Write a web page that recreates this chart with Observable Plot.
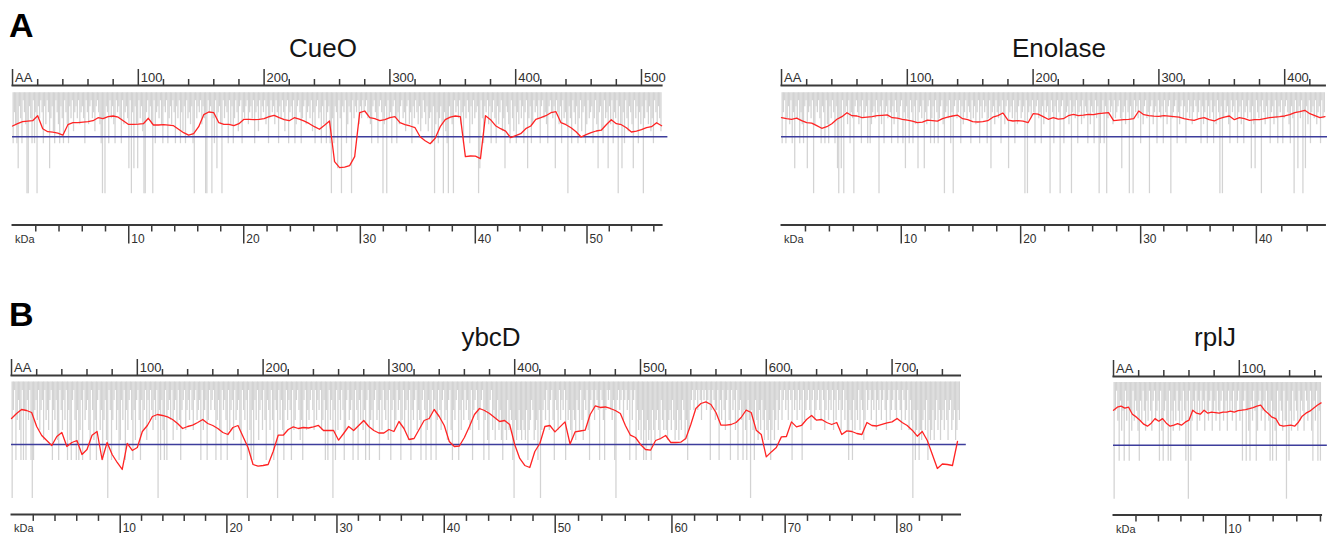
<!DOCTYPE html>
<html>
<head>
<meta charset="utf-8">
<script src="https://cdn.jsdelivr.net/npm/d3@7"></script>
<script src="https://cdn.jsdelivr.net/npm/@observablehq/plot@0.6"></script>
<style>
html, body { margin: 0; padding: 0; background: #fff; }
#chart { position: relative; width: 1327px; height: 534px; overflow: hidden; background: #fff; font-family: "Liberation Sans", Arial, sans-serif; }
</style>
</head>
<body>
<div id="chart"></div>
<script>
// ---------------- DATA ----------------
// Per-residue profile bars: each entry is an index into the panel's bar levels.
const levelsA = [36, 30, 24, 18, 12, 5, -7, -32, -57];
const levelsB = [54, 44, 34, 24, 14, 4, -16, -35, -54];

const cueoCodes = [
6,2,4,6,7,1,3,6,0,2,4,8,8,1,3,6,0,6,2,8,
1,3,0,2,6,1,4,0,2,7,3,1,5,6,0,2,4,6,1,3,
6,0,2,4,6,1,3,0,5,2,1,3,0,4,2,1,3,6,0,2,
4,1,0,3,2,5,1,0,2,4,6,8,3,8,1,2,6,0,3,1,
4,6,0,2,1,3,6,0,4,2,1,3,7,0,8,2,7,1,4,7,
0,3,1,5,8,8,2,0,3,1,4,8,0,6,2,1,3,0,4,6,
1,2,0,6,3,1,4,0,2,6,1,3,0,6,2,5,1,6,0,3,
2,4,1,6,8,0,3,1,2,0,4,1,3,8,8,0,2,1,8,3,
6,0,7,2,1,4,8,0,3,1,2,6,0,4,1,6,3,0,2,5,
1,0,6,2,3,1,0,4,2,1,3,0,6,2,1,5,0,3,1,2,
0,4,1,6,3,0,2,1,4,0,2,6,1,3,0,2,5,1,0,6,
2,1,3,0,6,4,1,0,2,6,3,1,0,4,2,1,3,0,5,2,
6,1,0,3,2,6,1,4,0,6,2,1,6,8,3,6,1,2,7,0,
3,8,1,2,0,6,4,1,2,8,0,3,1,2,0,4,1,3,0,2,
1,0,3,2,4,6,1,0,2,3,6,1,0,2,8,4,1,8,0,3,
2,6,1,0,3,6,2,4,1,0,3,2,5,1,0,4,2,6,1,3,
0,2,4,1,5,3,0,2,4,1,5,3,2,6,1,8,4,2,6,3,
1,4,8,2,5,6,8,1,3,4,8,0,2,1,3,0,4,2,6,1,
3,0,2,6,1,4,0,3,2,1,8,7,0,3,6,1,2,0,4,1,
6,2,0,3,6,1,4,2,0,5,3,7,1,2,4,6,0,3,5,1,
6,2,4,0,3,1,6,2,0,7,3,1,6,4,0,2,1,3,0,6,
1,0,3,2,4,6,1,0,2,3,1,7,0,2,4,1,6,0,3,2,
4,8,1,3,6,0,2,4,1,6,3,0,5,2,1,6,4,0,3,2,
1,6,3,0,4,7,2,1,5,6,0,3,2,7,1,4,0,6,2,3,
0,8,1,4,7,2,6,0,3,5,1,2,4,7,0,3,1,6,2,4,
1,8,3,0,2,4,1,5,3,6,0,2,4,1,3,5];

const enolaseCodes = [
6,2,0,6,3,1,4,0,6,2,7,1,3,0,6,2,4,6,1,0,
7,2,1,3,0,8,4,1,2,0,3,6,1,2,6,0,4,6,1,3,
0,2,6,1,7,8,3,7,0,8,2,1,4,0,6,2,3,8,1,0,
2,4,1,6,0,3,2,1,6,0,6,4,2,1,3,0,2,8,1,4,
0,6,2,1,3,0,2,6,1,4,0,2,6,3,1,0,6,2,7,1,
3,6,0,2,6,1,4,0,7,2,1,3,0,7,2,4,1,0,6,3,
1,6,0,2,6,3,1,0,4,8,2,1,3,0,6,2,8,1,0,3,
2,0,6,1,4,2,0,3,1,2,6,0,3,1,4,2,0,6,1,3,
0,2,1,6,3,0,7,2,1,4,0,2,3,1,6,0,2,4,1,0,
7,2,1,3,0,6,2,4,1,0,3,2,1,8,0,8,2,1,3,0,
2,6,1,0,3,2,6,1,4,0,2,1,3,8,0,2,6,1,3,0,
2,8,1,0,6,3,2,1,4,0,8,2,1,3,0,6,2,1,4,0,
3,1,2,6,0,4,1,2,6,0,3,1,8,6,2,0,6,1,8,3,
0,2,1,4,0,3,2,1,0,3,7,2,1,4,0,2,8,1,3,8,
0,2,1,3,0,6,2,4,1,0,3,2,8,1,0,4,2,1,6,0,
2,3,1,6,0,2,4,1,0,8,3,2,1,0,6,2,4,1,0,3,
1,6,2,0,3,1,4,2,0,1,3,2,0,6,1,4,2,0,6,1,
3,0,2,6,1,4,0,2,8,1,8,3,0,2,1,4,6,0,2,1,
3,0,6,2,1,4,0,6,2,1,3,0,2,7,1,4,7,0,2,3,
1,8,0,2,4,1,3,0,6,2,1,4,0,3,6,1,2,0,6,3,
1,0,2,4,6,1,3,8,0,2,7,1,3,0,8,2,7,1,4,0,
6,2,1,3,0,4,2,1,6,0,3,2];

const ybcdCodes = [
8,2,0,6,3,1,4,6,0,6,2,6,1,3,0,6,8,6,2,1,
3,0,4,2,1,5,0,3,2,4,1,0,6,2,3,1,5,6,0,2,
4,1,3,0,6,2,5,6,1,0,3,6,2,6,4,1,6,0,3,2,
1,4,6,0,2,5,3,6,1,0,4,2,6,3,1,5,8,0,2,6,
3,1,0,4,2,6,5,1,3,0,6,2,4,1,0,3,6,2,5,1,
0,3,6,1,4,2,0,5,1,3,0,2,4,1,3,0,8,2,6,1,
4,6,0,6,2,1,3,0,5,2,1,4,0,3,6,2,1,0,4,2,
1,3,0,2,4,1,0,3,2,1,6,0,4,2,1,6,3,0,2,1,
0,2,6,3,1,4,6,0,2,1,3,6,0,4,2,1,5,0,3,2,
1,4,6,0,2,3,1,8,0,4,6,2,6,1,3,0,5,2,1,4,
0,3,6,1,2,4,0,3,6,1,2,8,0,3,1,4,6,2,0,3,
1,2,6,0,4,3,1,0,2,5,3,6,1,0,4,2,3,1,0,2,
4,0,3,1,2,0,4,3,1,6,2,6,0,3,1,8,2,6,0,4,
1,3,0,2,6,4,1,0,3,2,1,6,4,0,2,6,1,3,0,4,
2,6,1,0,6,3,2,4,1,0,3,2,6,1,4,0,2,3,1,5,
0,6,2,1,4,3,0,2,1,6,3,0,4,2,1,5,0,6,2,3,
1,0,4,2,3,6,1,0,2,6,4,1,3,6,0,2,1,6,3,0,
2,4,1,0,3,2,5,1,0,4,6,2,3,1,0,6,2,4,1,3,
0,2,1,3,4,0,6,2,1,0,3,4,2,1,0,6,3,2,5,6,
1,0,4,2,5,3,1,4,2,5,6,3,4,5,1,4,2,3,6,8,
3,5,4,2,4,5,3,4,5,2,6,4,3,1,2,5,4,3,6,2,
8,4,2,1,3,0,2,4,1,0,3,6,1,2,4,0,3,1,2,0,
6,1,3,2,4,5,2,3,5,1,2,4,0,3,5,1,2,0,4,6,
1,0,2,3,0,1,2,6,0,1,3,6,2,0,1,0,2,3,1,6,
8,1,0,2,1,0,3,1,0,2,1,6,0,3,1,0,6,2,4,3,
5,2,6,4,6,3,5,4,6,2,4,5,3,2,4,5,1,3,4,2,
4,5,3,2,4,1,3,5,4,2,5,3,4,1,2,5,3,6,4,2,
1,0,2,1,0,2,0,1,3,0,1,0,2,1,0,6,2,0,1,3,
2,0,6,1,3,0,2,4,1,0,3,6,0,2,1,4,0,6,2,1,
3,6,2,4,6,1,3,8,2,4,6,1,3,5,2,4,1,3,5,2,
4,5,3,6,4,2,5,3,1,4,2,0,3,1,0,2,1,3,0,1,
6,0,2,1,3,0,2,1,6,0,3,2,1,0,2,4,1,0,3,2,
1,0,2,3,0,1,4,2,0,3,1,2,0,4,1,3,0,2,1,4,
2,0,3,1,4,6,2,3,6,1,4,2,3,0,4,1,2,5,3,0,
2,1,0,3,1,2,0,4,1,2,0,3,1,0,2,4,1,0,3,2,
1,0,2,3,0,1,2,4,0,1,3,2,0,4,1,3,8,2,6,4,
2,6,4,5,3,2,4,1,6,3,5,4,2,5,3,1,4,2,5,3,
2,4,1,3,5,2,1,4,3,2,5,4,2,3];

const rpljCodes = [
8,2,0,3,6,1,4,2,6,0,3,1,6,2,4,0,3,1,2,4,
6,1,3,0,2,4,1,3,0,2,4,1,0,3,2,1,6,0,4,6,
2,1,3,6,0,6,2,4,1,3,0,2,4,1,3,0,2,6,1,8,
0,6,3,1,2,0,4,1,3,0,2,1,4,0,2,3,1,0,4,2,
1,3,0,2,4,1,0,3,2,1,4,0,2,1,3,0,2,4,1,0,
3,2,6,1,0,6,2,4,6,1,3,0,2,6,4,1,0,3,2,1,
4,0,2,3,6,1,6,2,4,6,0,3,1,2,4,0,3,8,1,6,
2,4,0,3,1,2,4,0,3,1,2,4,0,1,3,2,0,4,6,1,
3,0,6,2,6];

// Smoothed profile (red line), sampled every `step` residues starting at residue 0.
const cueoRed = [
10.7, 13, 15, 15.5, 16, 21, 8, 5, 4.5, 3.5,
1.5, 12, 14, 14, 14.5, 15, 16, 19, 18, 20,
20.7, 19.5, 16, 12.4, 12.4, 12.5, 13, 18.4, 11.7, 11.7,
12, 11.5, 11, 7.5, 4, 1.5, 3, 10, 22, 24.7,
24, 14, 12.4, 12.4, 11, 13, 17.4, 17.4, 17, 17.4,
18, 20, 21.4, 19, 17, 16, 19, 17.5, 15.5, 13,
10, 7.4, 11.5, 15.7, -25, -31, -30.5, -29, -20, 24,
25.7, 19, 18, 16, 17, 19, 20, 14, 12, 10.7,
9, 0, -4, -7, -1.5, 10, 17, 19.5, 20.7, 20,
-20, -19.3, -19.5, -22, 21, 17, 11, 8, 5.5, -1,
1, 3, 8, 10.7, 17.4, 19, 21, 24, 25, 14,
12, 9, 5, -0.3, 2, 4, 5.7, 6.5, 12, 17,
13, 12, 9, 4.7, 5.5, 7, 9, 10, 14, 11];

const enolaseRed = [
19, 18, 17.4, 18.5, 16, 14, 13.5, 11, 8.4, 10,
13, 17.4, 20, 24, 21, 20.7, 19, 19.5, 20, 21,
21.4, 21.8, 19, 18.5, 17.4, 16.5, 15.5, 14, 14.5, 16.5,
16, 15.5, 18, 19.5, 20.7, 21.5, 18, 17, 15, 14.7,
15, 16, 19.5, 21, 23.7, 16.5, 15.7, 16, 15.5, 14,
23, 22.5, 20, 17.4, 19, 17.5, 18, 21, 22.4, 21,
21.5, 22.4, 22, 23, 23.5, 24, 16, 16.5, 17, 17.4,
18, 25.7, 22, 21, 20.5, 20.4, 21, 20.5, 20, 19.5,
18, 17, 16.4, 18, 19, 17, 15.7, 18, 19.5, 20.7,
17, 19, 18, 16.4, 17, 17, 18, 19, 19.5, 20,
20.7, 22, 24, 25, 26.4, 23, 21, 19, 20];

const ybcdRed = [
26, 31, 35, 34, 32, 18, 9, 4, -1, 8,
12, -2, 2, 4, -10, -5, 9.3, 13, -15, 2,
-10, -18, -25, 1, -6, -3, 13, 19, 28, 30,
29, 27.6, 25, 21, 16, 18, 19.3, 22, 25, 21,
19, 16, 12, 10, 17, 19, 8, -3, -20, -21.7,
-21, -20, -7, 9.3, 9.3, 15, 17.6, 16, 17, 16.5,
17.6, 19, 14, 14, 14, 4.3, 11, 18, 14, 19,
24, 18, 14, 11.5, 11.5, 15, 13, 23, 16, 5,
6, 15, 24, 26, 35, 28, 19, 3, -2, -1.5,
7, 18, 30, 36, 34, 31, 27, 23, 24, 20,
0, -14, -21, -23, -7, 1, 18, 19, 12.6, 17.6,
22.6, 0.5, 12.6, 13.5, 14.3, 30, 38.5, 37, 37.5, 36,
34, 31, 19, 9.3, 7, 0, -5, -5.7, 4, 6,
9, 2, 2, 2.3, 6, 20, 36, 41, 42.6, 40,
32, 19.3, 19.3, 20, 22, 27, 34.3, 32, 14.3, 10,
-12.4, -7.4, -3, 7.6, 8, 22.6, 17.6, 19, 25, 29,
24.3, 25, 22, 20, 22, 10, 13.6, 13, 11, 10,
22, 19, 18.5, 20, 21.6, 22.6, 26, 22, 19, 14.3,
8.3, 13, 4, -10, -24, -19.5, -20, -21, 3];

const rpljRed = [
35, 38, 39, 37, 38, 31, 28.3, 25, 21, 19,
22, 26.6, 24, 26.6, 22, 19, 20, 21.6, 20, 23,
25, 35, 32, 31, 35, 32, 33, 32.5, 32, 33,
33, 34, 33, 34.5, 35, 35.6, 36.5, 37.6, 39, 40,
35, 31.6, 28, 26.6, 20, 19, 19.5, 20, 19, 23,
29, 32, 34, 37, 40, 42.3];

// Tick labels (amino-acid axis) and kDa marks (residue position reached at each 10 kDa)
const cueoAATicks = [0, 100, 200, 300, 400, 500];
const enolaseAATicks = [0, 100, 200, 300, 400];
const ybcdAATicks = [0, 100, 200, 300, 400, 500, 600, 700];
const rpljAATicks = [0, 100];

const cueoKdaTicks = [0, 10, 20, 30, 40, 50];
const cueoKdaAt = [0, 92.4, 183.8, 276.5, 367.9, 456.7];
const enolaseKdaTicks = [0, 10, 20, 30, 40];
const enolaseKdaAt = [0, 95.2, 190.1, 285.5, 377.5];
const ybcdKdaTicks = [0, 10, 20, 30, 40, 50, 60, 70, 80];
const ybcdKdaAt = [0, 86.4, 171.2, 258.7, 344, 432.2, 525, 615, 703.8];
const rpljKdaTicks = [0, 10];
const rpljKdaAt = [0, 89.3];

const proteinNames = ["CueO", "Enolase", "ybcD", "rplJ"];
const proteinLengths = [516, 432, 754, 165];
const proteinKda = [56.7, 45.4, 85.6, 18.05];
const panelLetters = ["A", "B"];

// ---------------- LAYOUT ----------------
const FONT = '"Liberation Sans", Arial, Helvetica, sans-serif';
const PX = 1.258;                 // pixels per residue
const M = {l: 4, r: 12, t: 24, b: 26};
const AXIS = "#3a3a3a";

const panels = [
  {name: proteinNames[0], codes: cueoCodes, red: cueoRed, step: 4, L: proteinLengths[0], aa: cueoAATicks,
   kda: cueoKdaTicks, kdaAt: cueoKdaAt, kdaTotal: proteinKda[0], levels: levelsA, barTop: 44,
   x0: 11.5, top: 84.5, bottom: 224, base: 135.7, title: [323, 57]},
  {name: proteinNames[1], codes: enolaseCodes, red: enolaseRed, step: 4, L: proteinLengths[1], aa: enolaseAATicks,
   kda: enolaseKdaTicks, kdaAt: enolaseKdaAt, kdaTotal: proteinKda[1], levels: levelsA, barTop: 44,
   x0: 780.9, top: 84.5, bottom: 224, base: 135.7, title: [1059, 57]},
  {name: proteinNames[2], codes: ybcdCodes, red: ybcdRed, step: 4, L: proteinLengths[2], aa: ybcdAATicks,
   kda: ybcdKdaTicks, kdaAt: ybcdKdaAt, kdaTotal: proteinKda[2], levels: levelsB, barTop: 62.6,
   x0: 11.3, top: 375.3, bottom: 514.2, base: 444.3, title: [491, 346]},
  {name: proteinNames[3], codes: rpljCodes, red: rpljRed, step: 3, L: proteinLengths[3], aa: rpljAATicks,
   kda: rpljKdaTicks, kdaAt: rpljKdaAt, kdaTotal: proteinKda[3], levels: levelsB, barTop: 62.6,
   x0: 1112.7, top: 375.6, bottom: 514.2, base: 444.3, title: [1215, 346]}
];

const chart = document.getElementById("chart");

for (const p of panels) {
  const innerW = p.L * PX;
  const innerH = p.bottom - p.top;
  const kdaScale = d3.scaleLinear().domain([...p.kda, p.kdaTotal]).range([...p.kdaAt, p.L]);
  const kdaMinor = d3.range(2, p.kdaTotal, 2).filter(k => k % 10 !== 0).map(k => kdaScale(k));
  const kdaMajor = p.kda.filter(k => k > 0).map(k => kdaScale(k));
  const aaMinor = d3.range(20, p.L, 20).filter(v => v % 100 !== 0);
  const textOpts = {fontFamily: FONT, fill: "#303030", stroke: "none", textAnchor: "start", dx: 2.5, label: null};

  const svg = Plot.plot({
    width: M.l + innerW + M.r,
    height: M.t + innerH + M.b,
    marginLeft: M.l, marginRight: M.r, marginTop: M.t, marginBottom: M.b,
    x: {domain: [0, p.L]},
    y: {domain: [-(p.bottom - p.base), p.base - p.top], axis: null},
    style: {background: "transparent", overflow: "visible", fontFamily: FONT},
    marks: [
      Plot.ruleX(p.codes, {x: (d, i) => i + 0.5, y1: p.barTop, y2: d => p.levels[d], stroke: "#d3d3d3", strokeWidth: 1.26}),
      Plot.ruleY([0], {x1: 0, x2: p.L + 5, stroke: "#3d3d9c", strokeWidth: 1.6}),
      Plot.line(p.red, {x: (d, i) => i * p.step, y: d => d, stroke: "#ff2424", strokeWidth: 1.3}),
      Plot.frame({anchor: "top", stroke: AXIS, strokeWidth: 2}),
      Plot.frame({anchor: "bottom", stroke: AXIS, strokeWidth: 2}),
      // amino-acid axis (top)
      Plot.axisX({anchor: "top", ticks: aaMinor, tickSize: 7, fill: "none", stroke: AXIS, strokeWidth: 1.5, label: null}),
      Plot.axisX({anchor: "top", ticks: p.aa, tickSize: 17, fill: "none", stroke: AXIS, strokeWidth: 1.5, label: null}),
      Plot.axisX({anchor: "top", ticks: p.aa, tickSize: 0, tickPadding: 3, fontSize: 13,
        tickFormat: d => d === 0 ? "AA" : String(d), ...textOpts}),
      // kDa axis (bottom)
      Plot.axisX({anchor: "bottom", ticks: kdaMinor, tickSize: 7, fill: "none", stroke: AXIS, strokeWidth: 1.5, label: null}),
      Plot.axisX({anchor: "bottom", ticks: kdaMajor, tickSize: 19, fill: "none", stroke: AXIS, strokeWidth: 1.5, label: null}),
      Plot.axisX({anchor: "bottom", ticks: kdaMajor, tickSize: 0, tickPadding: 9.5, fontSize: 12,
        tickFormat: v => String(Math.round(kdaScale.invert(v))), ...textOpts}),
      Plot.axisX({anchor: "bottom", ticks: [0], tickSize: 0, tickPadding: 10, fontSize: 11,
        tickFormat: () => "kDa", ...textOpts})
    ]
  });
  svg.style.position = "absolute";
  svg.style.left = (p.x0 - M.l) + "px";
  svg.style.top = (p.top - M.t) + "px";
  svg.style.maxWidth = "none";
  chart.appendChild(svg);
}

// Titles and panel letters
const overlay = d3.select(chart).append("svg")
  .attr("width", 1327).attr("height", 534)
  .style("position", "absolute").style("left", 0).style("top", 0)
  .style("pointer-events", "none");
overlay.selectAll("text.title").data(panels).join("text")
  .attr("class", "title")
  .attr("x", d => d.title[0]).attr("y", d => d.title[1])
  .attr("text-anchor", "middle")
  .attr("font-family", FONT).attr("font-size", 26).attr("fill", "#151515")
  .text(d => d.name);
overlay.selectAll("text.letter").data(panelLetters).join("text")
  .attr("class", "letter")
  .attr("x", 9).attr("y", (d, i) => i === 0 ? 37 : 326)
  .attr("font-family", FONT).attr("font-weight", "bold").attr("font-size", 34).attr("fill", "#000")
  .text(d => d);
</script>
</body>
</html>
